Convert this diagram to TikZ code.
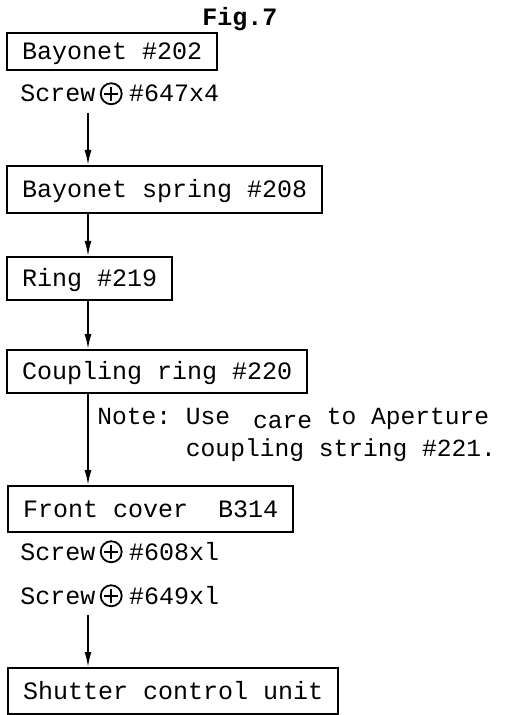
\documentclass[tikz,border=0pt]{standalone}
\usepackage{fontspec}
\setmainfont{Liberation Mono}
\frenchspacing
\usetikzlibrary{positioning,arrows.meta}

\begin{document}
\begin{tikzpicture}[
  x=0.5pt, y=-0.5pt,
  font=\fontsize{12.5}{16}\selectfont,
  part/.style={draw, line width=1pt, anchor=north west, inner xsep=7.5pt, inner ysep=0pt, text height=8pt, text depth=0pt},
  screwtxt/.style={anchor=base west, inner xsep=0pt, inner ysep=5pt},
  screwmark/.style={draw, circle, line width=0.9pt, minimum size=10.5pt, inner sep=0pt,
    path picture={\draw[line width=0.9pt]
      ([yshift=-1.8pt]path picture bounding box.north) -- ([yshift=1.8pt]path picture bounding box.south)
      ([xshift=1.8pt]path picture bounding box.west) -- ([xshift=-1.8pt]path picture bounding box.east);}},
  note/.style={anchor=north west, inner sep=0pt, align=left, font=\fontsize{12.3}{16}\selectfont},
  title/.style={anchor=base west, inner sep=0pt, font=\fontsize{12.5}{16}\selectfont\bfseries},
  flow/.style={line width=0.8pt, -{Latex[length=7.5pt,width=3.5pt]}},
]
\path[use as bounding box] (0,0) rectangle (504,715);

\coordinate (spine) at (88,0);

\node[title] (fig) at (202,26) {Fig.7};

\node[part, minimum height=18.5pt] (bayonet) at (6,32) {Bayonet \#202};

\node[screwtxt] (screwA) at (20,102) {Screw};
\node[screwmark, right=2pt of screwA] (plusA) {};
\node[screwtxt, xshift=3pt] (numA) at (plusA.east |- screwA.base) {\#647x4};

\node[part, minimum height=23.5pt] (spring) at (6,165) {Bayonet spring \#208};
\node[part, minimum height=21.5pt] (ring) at (6,256) {Ring \#219};
\node[part, minimum height=21.5pt] (coupling) at (6,349) {Coupling ring \#220};

\node[note] (note) at (97,408) {Note: Use\hspace{4pt} \raisebox{-2pt}{care} to Aperture\\\phantom{Note: }coupling string \#221.};

\node[part, minimum height=23pt] (cover) at (7,485) {Front cover\ \ B314};

\node[screwtxt] (screwB) at (20,560) {Screw};
\node[screwmark, right=2pt of screwB] (plusB) {};
\node[screwtxt, xshift=3pt] (numB) at (plusB.east |- screwB.base) {\#608xl};

\node[screwtxt] (screwC) at (20,604) {Screw};
\node[screwmark, right=2pt of screwC] (plusC) {};
\node[screwtxt, xshift=3pt] (numC) at (plusC.east |- screwC.base) {\#649xl};

\node[part, minimum height=23pt] (shutter) at (7,667) {Shutter control unit};

% assembly order
\draw[flow] (screwA.south -| spine) -- (spring.north -| spine);
\draw[flow] (spring.south -| spine) -- (ring.north -| spine);
\draw[flow] (ring.south -| spine) -- (coupling.north -| spine);
\draw[flow] (coupling.south -| spine) -- (cover.north -| spine);
\draw[flow] (screwC.south -| spine) -- (shutter.north -| spine);
\end{tikzpicture}
\end{document}
